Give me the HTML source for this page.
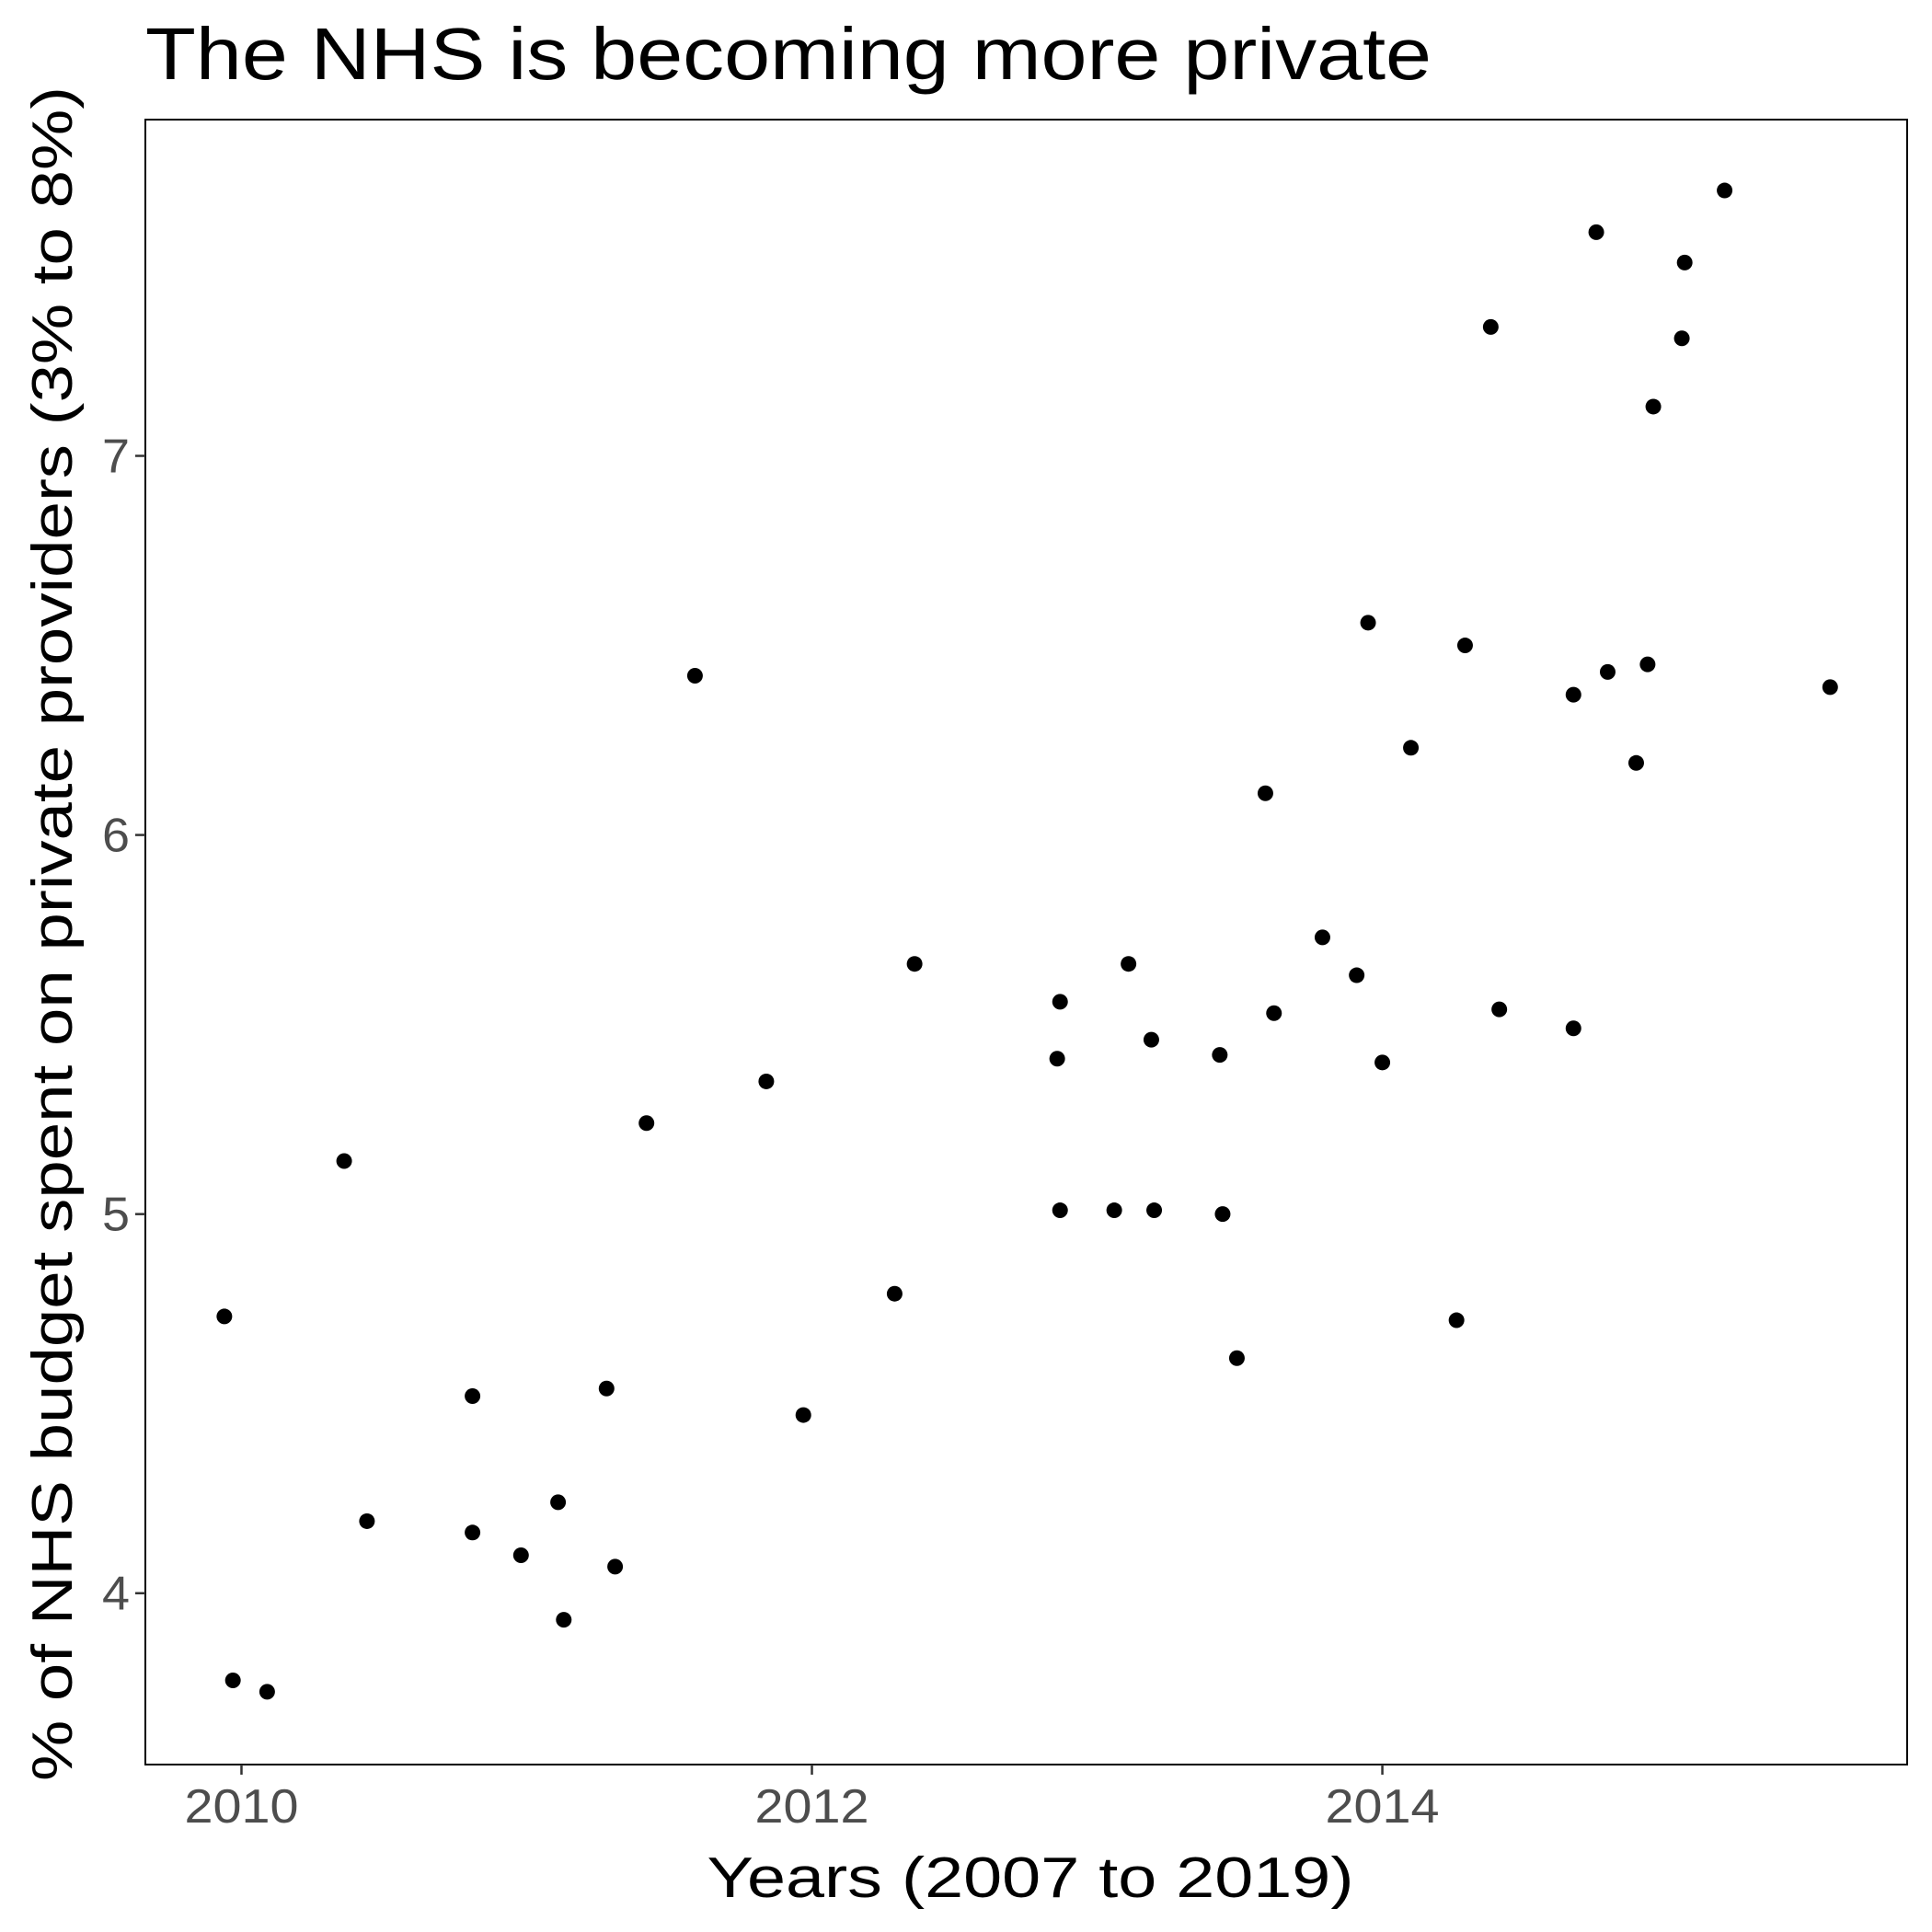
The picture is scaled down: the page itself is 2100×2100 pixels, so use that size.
<!DOCTYPE html>
<html><head><meta charset="utf-8"><style>
html,body{margin:0;padding:0;background:#fff;}
svg{display:block;font-family:"Liberation Sans",Arial,sans-serif;}
</style></head><body>
<svg id="chart" width="2100" height="2100" viewBox="0 0 2100 2100">
<rect x="0" y="0" width="2100" height="2100" fill="#fff"/>
<text x="158" y="86" font-size="80" fill="#000" textLength="1398" lengthAdjust="spacingAndGlyphs">The NHS is becoming more private</text>
<g id="marks"></g>
<rect x="158" y="130" width="1915" height="1788" fill="none" stroke="#000" stroke-width="2"/>
<g id="xaxis"></g>
<g id="yaxis"></g>
<text x="1120" y="2062" font-size="62" text-anchor="middle" fill="#000" textLength="703" lengthAdjust="spacingAndGlyphs">Years (2007 to 2019)</text>
<text transform="translate(78,1015) rotate(-90)" font-size="62" text-anchor="middle" fill="#000" textLength="1842" lengthAdjust="spacingAndGlyphs">% of NHS budget spent on private providers (3% to 8%)</text>
</svg>
<script>
const years = [2009.94,2009.97,2010.09,2010.36,2010.44,2010.81,2010.81,2010.98,2011.11,2011.13,2011.28,2011.31,2011.42,2011.59,2011.84,2011.97,2012.29,2012.36,2012.86,2012.87,2012.87,2013.06,2013.11,2013.19,2013.20,2013.43,2013.44,2013.49,2013.59,2013.62,2013.79,2013.91,2013.95,2014.00,2014.10,2014.26,2014.29,2014.38,2014.41,2014.67,2014.67,2014.75,2014.79,2014.89,2014.93,2014.95,2015.05,2015.06,2015.20,2015.57];
const shares = [4.73,3.77,3.74,5.14,4.19,4.52,4.16,4.10,4.24,3.93,4.54,4.07,5.24,6.42,5.35,4.47,4.79,5.66,5.41,5.56,5.01,5.01,5.66,5.46,5.01,5.42,5.00,4.62,6.11,5.53,5.73,5.63,6.56,5.40,6.23,4.72,6.50,7.34,5.54,6.37,5.49,7.59,6.43,6.19,6.45,7.13,7.31,7.51,7.70,6.39];
const xTicks = [2010,2012,2014];
const yTicks = [4,5,6,7];

const X0=158,X1=2073,Y0=130,Y1=1918;
const xMin=2009.663,xMax=2015.84,yMin=3.548,yMax=7.887;
function sx(v){return X0+(v-xMin)/(xMax-xMin)*(X1-X0);}
function sy(v){return Y1-(v-yMin)/(yMax-yMin)*(Y1-Y0);}
const NS="http://www.w3.org/2000/svg";
const marks=document.getElementById('marks');
years.forEach((yr,i)=>{
  const c=document.createElementNS(NS,'circle');
  c.setAttribute('cx',sx(yr));c.setAttribute('cy',sy(shares[i]));c.setAttribute('r',8.5);c.setAttribute('fill','#000');
  
  
  marks.appendChild(c);
});
const xa=document.getElementById('xaxis');
xTicks.forEach(t=>{
  const l=document.createElementNS(NS,'line');
  l.setAttribute('x1',sx(t));l.setAttribute('x2',sx(t));l.setAttribute('y1',Y1);l.setAttribute('y2',Y1+11);
  l.setAttribute('stroke','#333');l.setAttribute('stroke-width',2.5);
  
  
  xa.appendChild(l);
  const tx=document.createElementNS(NS,'text');
  tx.setAttribute('x',sx(t));tx.setAttribute('y',1981);tx.setAttribute('font-size',52);tx.setAttribute('fill','#4d4d4d');tx.setAttribute('text-anchor','middle');
  tx.setAttribute('textLength',124);tx.setAttribute('lengthAdjust','spacingAndGlyphs');
  tx.textContent=t;
  
  
  xa.appendChild(tx);
});
const ya=document.getElementById('yaxis');
yTicks.forEach(t=>{
  const l=document.createElementNS(NS,'line');
  l.setAttribute('x1',X0-11);l.setAttribute('x2',X0);l.setAttribute('y1',sy(t));l.setAttribute('y2',sy(t));
  l.setAttribute('stroke','#333');l.setAttribute('stroke-width',2.5);
  
  
  ya.appendChild(l);
  const tx=document.createElementNS(NS,'text');
  tx.setAttribute('x',X0-17);tx.setAttribute('y',sy(t)+18);tx.setAttribute('font-size',52);tx.setAttribute('fill','#4d4d4d');tx.setAttribute('text-anchor','end');
  tx.setAttribute('textLength',30);tx.setAttribute('lengthAdjust','spacingAndGlyphs');
  tx.textContent=t;
  
  
  ya.appendChild(tx);
});
</script>
</body></html>
